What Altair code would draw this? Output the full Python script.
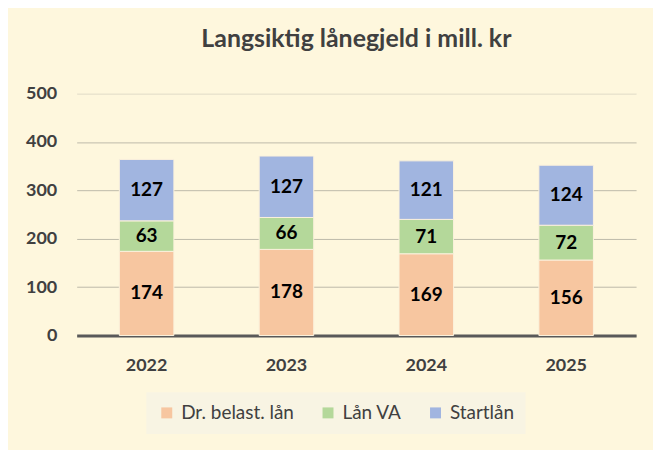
import altair as alt
import pandas as pd

years = ["2022", "2023", "2024", "2025"]
series = ["Dr. belast. lån", "Lån VA", "Startlån"]
dr_belast = [174, 178, 169, 156]
laan_va = [63, 66, 71, 72]
startlaan = [127, 127, 121, 124]
colors = ["#F7C6A0", "#B4D89A", "#A1B5E0"]

rows = []
for i, y in enumerate(years):
    for k, (s, vals) in enumerate(zip(series, [dr_belast, laan_va, startlaan])):
        rows.append({"year": y, "series": s, "value": vals[i], "order": k})
df = pd.DataFrame(rows)

FONT = "Lato"
TXT = "#404040"

base = alt.Chart(df).transform_stack(
    stack="value", groupby=["year"], sort=[alt.SortField("order", order="ascending")], as_=["y0", "y1"]
).transform_calculate(mid="(datum.y0 + datum.y1) / 2")

xenc = alt.X(
    "year:N",
    title=None,
    sort=years,
    scale=alt.Scale(paddingInner=0.61, paddingOuter=0.305),
    axis=alt.Axis(
        labelAngle=0, labelFont=FONT, labelFontSize=18, labelFontWeight="bold",
        labelColor=TXT, labelPadding=21, ticks=False, domainColor="#595959",
        domainWidth=3, grid=False,
    ),
)

bars = base.mark_bar(stroke="#FBF1DC", strokeWidth=1).encode(
    x=xenc,
    y=alt.Y(
        "y0:Q", title=None,
        scale=alt.Scale(domain=[0, 500], nice=False),
        axis=alt.Axis(
            values=[0, 100, 200, 300, 400, 500], labelFont=FONT, labelFontSize=18,
            labelFontWeight="bold", labelColor=TXT, labelPadding=20, ticks=False,
            domain=False,
            gridColor={"condition": {"test": "datum.value >= 500", "value": "#E0DBC8"},
                       "value": "#BDB9A9"},
            gridWidth=1,
        ),
    ),
    y2="y1:Q",
    color=alt.Color(
        "series:N",
        sort=series,
        scale=alt.Scale(domain=series, range=colors),
        legend=alt.Legend(
            title=None, orient="none", direction="horizontal", legendX=70, legendY=300,
            fillColor="#F8F4E3", padding=11, labelFont=FONT, labelFontSize=19,
            labelColor=TXT, symbolType="square", symbolSize=121, symbolStrokeWidth=0,
            columnPadding=24, labelOffset=5,
        ),
    ),
    order=alt.Order("order:Q"),
)

labels = base.mark_text(font=FONT, fontSize=19, fontWeight="bold", color="#000000").encode(
    x=alt.X("year:N", sort=years),
    y=alt.Y("mid:Q"),
    text=alt.Text("value:Q"),
)

chart = (
    alt.layer(bars, labels)
    .properties(
        width=562,
        height=243,
        autosize=alt.AutoSizeParams(type="none"),
        padding={"left": 69, "top": 85, "right": 17, "bottom": 114},
        background="#FEF7DD",
        title=alt.TitleParams(
            "Langsiktig lånegjeld i mill. kr", font=FONT, fontSize=25, fontWeight="bold",
            color=TXT, anchor="middle", offset=33,
        ),
    )
    .configure_view(stroke=None)
)

chart.save("out.html", embed_options={"renderer": "svg", "actions": False})
